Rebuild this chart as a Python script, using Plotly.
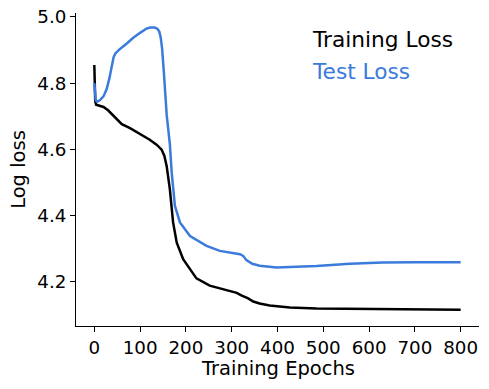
import plotly.graph_objects as go

train_epochs = [0, 1, 2, 4, 10, 20, 30, 41, 49, 60, 78, 100, 121, 136, 147, 153, 158, 165, 172, 180, 194, 209, 223, 252, 289, 311, 322, 335, 347, 361, 383, 427, 485, 558, 630, 703, 760, 800]
train_loss = [4.855, 4.80, 4.745, 4.735, 4.732, 4.728, 4.718, 4.703, 4.689, 4.676, 4.664, 4.647, 4.629, 4.614, 4.599, 4.580, 4.549, 4.479, 4.379, 4.318, 4.268, 4.238, 4.210, 4.188, 4.173, 4.166, 4.158, 4.150, 4.140, 4.134, 4.128, 4.122, 4.119, 4.118, 4.116, 4.115, 4.114, 4.115]

test_epochs = [0, 1, 3, 6, 12, 20, 27, 33, 38, 42, 46, 55, 71, 85, 100, 114, 122, 132, 138, 142, 145, 148, 152, 158, 165, 169, 176, 187, 209, 245, 274, 300, 318, 325, 332, 345, 361, 398, 485, 558, 630, 703, 800]
test_loss = [4.800, 4.765, 4.748, 4.744, 4.748, 4.760, 4.782, 4.815, 4.850, 4.878, 4.890, 4.902, 4.920, 4.937, 4.952, 4.965, 4.968, 4.968, 4.964, 4.955, 4.938, 4.905, 4.830, 4.704, 4.615, 4.529, 4.429, 4.379, 4.338, 4.308, 4.293, 4.288, 4.283, 4.278, 4.265, 4.254, 4.248, 4.243, 4.247, 4.254, 4.258, 4.259, 4.259]

x_ticks = [0, 100, 200, 300, 400, 500, 600, 700, 800]
y_ticks = [4.2, 4.4, 4.6, 4.8, 5.0]
y_tick_labels = ["4.2", "4.4", "4.6", "4.8", "5.0"]

BLUE = "#3a7bdc"
FONT = "DejaVu Sans"

fig = go.Figure()
fig.add_trace(go.Scatter(x=train_epochs, y=train_loss, mode="lines",
                         line=dict(color="black", width=2.5), name="Training Loss"))
fig.add_trace(go.Scatter(x=test_epochs, y=test_loss, mode="lines",
                         line=dict(color=BLUE, width=2.5), name="Test Loss"))

fig.add_annotation(x=472, y=4.931, xref="x", yref="y", text="Training Loss",
                   showarrow=False, xanchor="left", yanchor="middle",
                   font=dict(family=FONT, size=21.7, color="black"))
fig.add_annotation(x=472, y=4.834, xref="x", yref="y", text="Test Loss",
                   showarrow=False, xanchor="left", yanchor="middle",
                   font=dict(family=FONT, size=21.7, color=BLUE))

# axis titles
fig.add_annotation(x=0.5, y=-0.137, xref="paper", yref="paper", text="Training Epochs",
                   showarrow=False, xanchor="center", yanchor="middle",
                   font=dict(family=FONT, size=19.5, color="black"))
fig.add_annotation(x=-0.143, y=0.5, xref="paper", yref="paper", text="Log loss",
                   showarrow=False, xanchor="center", yanchor="middle", textangle=-90,
                   font=dict(family=FONT, size=19.5, color="black"))

fig.update_layout(
    width=489, height=389,
    margin=dict(l=76, r=10, t=13, b=63, autoexpand=False),
    plot_bgcolor="white", paper_bgcolor="white",
    showlegend=False,
    font=dict(family=FONT, size=18, color="black"),
)
fig.update_xaxes(range=[-40, 840], tickvals=x_ticks, ticks="outside", ticklen=5,
                 tickwidth=1, tickcolor="black", showline=True, linecolor="black",
                 linewidth=1, showgrid=False, zeroline=False, automargin=False,
                 tickfont=dict(family=FONT, size=18.3))
fig.update_yaxes(range=[4.066, 5.012], tickvals=y_ticks, ticktext=y_tick_labels,
                 ticks="outside", ticklen=5, tickwidth=1, tickcolor="black",
                 showline=True, linecolor="black", linewidth=1, showgrid=False,
                 zeroline=False, automargin=False,
                 tickfont=dict(family=FONT, size=18.3))

fig.write_html("out.html", config={"displayModeBar": False},
               post_script="document.body.style.margin='0';")
